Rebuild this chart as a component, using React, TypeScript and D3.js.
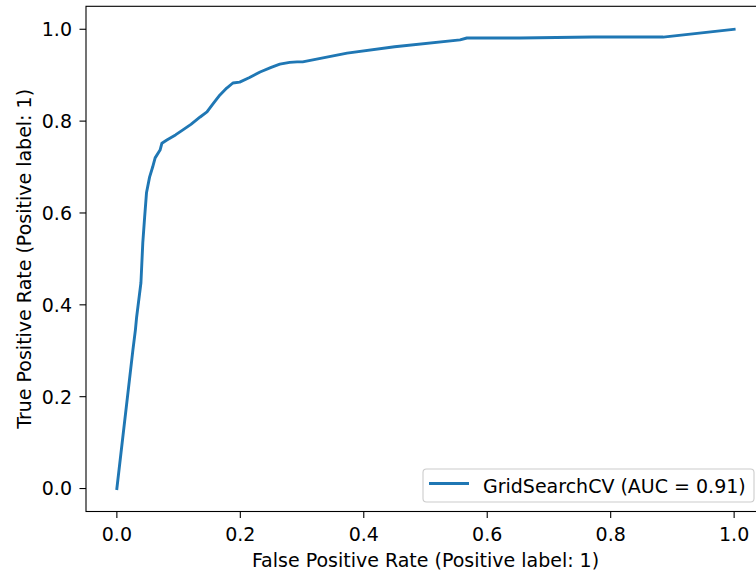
import React from "react";
import * as d3 from "d3";

const fpr = [0, 0.026, 0.030, 0.032, 0.039, 0.042, 0.045, 0.048, 0.053, 0.058, 0.062, 0.070, 0.073, 0.081, 0.095, 0.107, 0.120, 0.135, 0.146, 0.156, 0.167, 0.178, 0.188, 0.199, 0.215, 0.232, 0.250, 0.264, 0.280, 0.292, 0.301, 0.373, 0.450, 0.556, 0.567, 0.653, 0.771, 0.885, 1.0];
const tpr = [0, 0.302, 0.345, 0.373, 0.448, 0.535, 0.591, 0.644, 0.678, 0.700, 0.720, 0.737, 0.752, 0.759, 0.770, 0.781, 0.793, 0.809, 0.820, 0.838, 0.857, 0.872, 0.883, 0.885, 0.895, 0.907, 0.917, 0.924, 0.928, 0.929, 0.929, 0.948, 0.962, 0.977, 0.981, 0.981, 0.983, 0.983, 1.0];
const xTicks = [0, 0.2, 0.4, 0.6, 0.8, 1.0];
const yTicks = [0, 0.2, 0.4, 0.6, 0.8, 1.0];
const legendLabel = "GridSearchCV (AUC = 0.91)";
const xLabel = "False Positive Rate (Positive label: 1)";
const yLabel = "True Positive Rate (Positive label: 1)";

export default function App() {
  const W = 756, H = 570;
  const left = 86, right = 765, top = 6.3, bottom = 511.5;
  const x = d3.scaleLinear().domain([-0.05, 1.05]).range([left, right]);
  const y = d3.scaleLinear().domain([-0.05, 1.05]).range([bottom, top]);
  const pts: [number, number][] = fpr.map((f, i) => [f, tpr[i]]);
  const line = d3.line<[number, number]>().x(d => x(d[0])).y(d => y(d[1]));
  const font = "DejaVu Sans";
  const fs = 19;
  const col = "#1f77b4";
  const tickLen = 6.5;
  return (
    <svg width={W} height={H} style={{ position: "absolute", left: 0, top: 0, background: "#fff" }} fontFamily={font}>
      <rect x={0} y={0} width={W} height={H} fill="#fff" />
      <path d={line(pts) || ""} fill="none" stroke={col} strokeWidth={2.9} strokeLinejoin="round" strokeLinecap="square" />
      <rect x={left} y={top} width={right - left} height={bottom - top} fill="none" stroke="#000" strokeWidth={1.1} />
      {xTicks.map(t => (
        <g key={"x" + t}>
          <line x1={x(t)} x2={x(t)} y1={bottom} y2={bottom + tickLen} stroke="#000" strokeWidth={1.1} />
          <text x={x(t)} y={541} fontSize={fs} textAnchor="middle" fill="#000">{t.toFixed(1)}</text>
        </g>
      ))}
      {yTicks.map(t => (
        <g key={"y" + t}>
          <line x1={left - tickLen} x2={left} y1={y(t)} y2={y(t)} stroke="#000" strokeWidth={1.1} />
          <text x={72} y={y(t)} dy="0.36em" fontSize={fs} textAnchor="end" fill="#000">{t.toFixed(1)}</text>
        </g>
      ))}
      <text x={(left + right) / 2} y={567} fontSize={fs} textAnchor="middle" fill="#000">{xLabel}</text>
      <text transform={`translate(31,${(top + bottom) / 2}) rotate(-90)`} fontSize={fs} textAnchor="middle" fill="#000">{yLabel}</text>
      <g>
        <rect x={423} y={469} width={331} height={33} rx={3.5} fill="#fff" fillOpacity={0.8} stroke="#cccccc" strokeWidth={1.1} />
        <line x1={429} x2={469} y1={483.5} y2={483.5} stroke={col} strokeWidth={2.9} />
        <text x={483} y={492.5} fontSize={fs} fill="#000">{legendLabel}</text>
      </g>
    </svg>
  );
}
